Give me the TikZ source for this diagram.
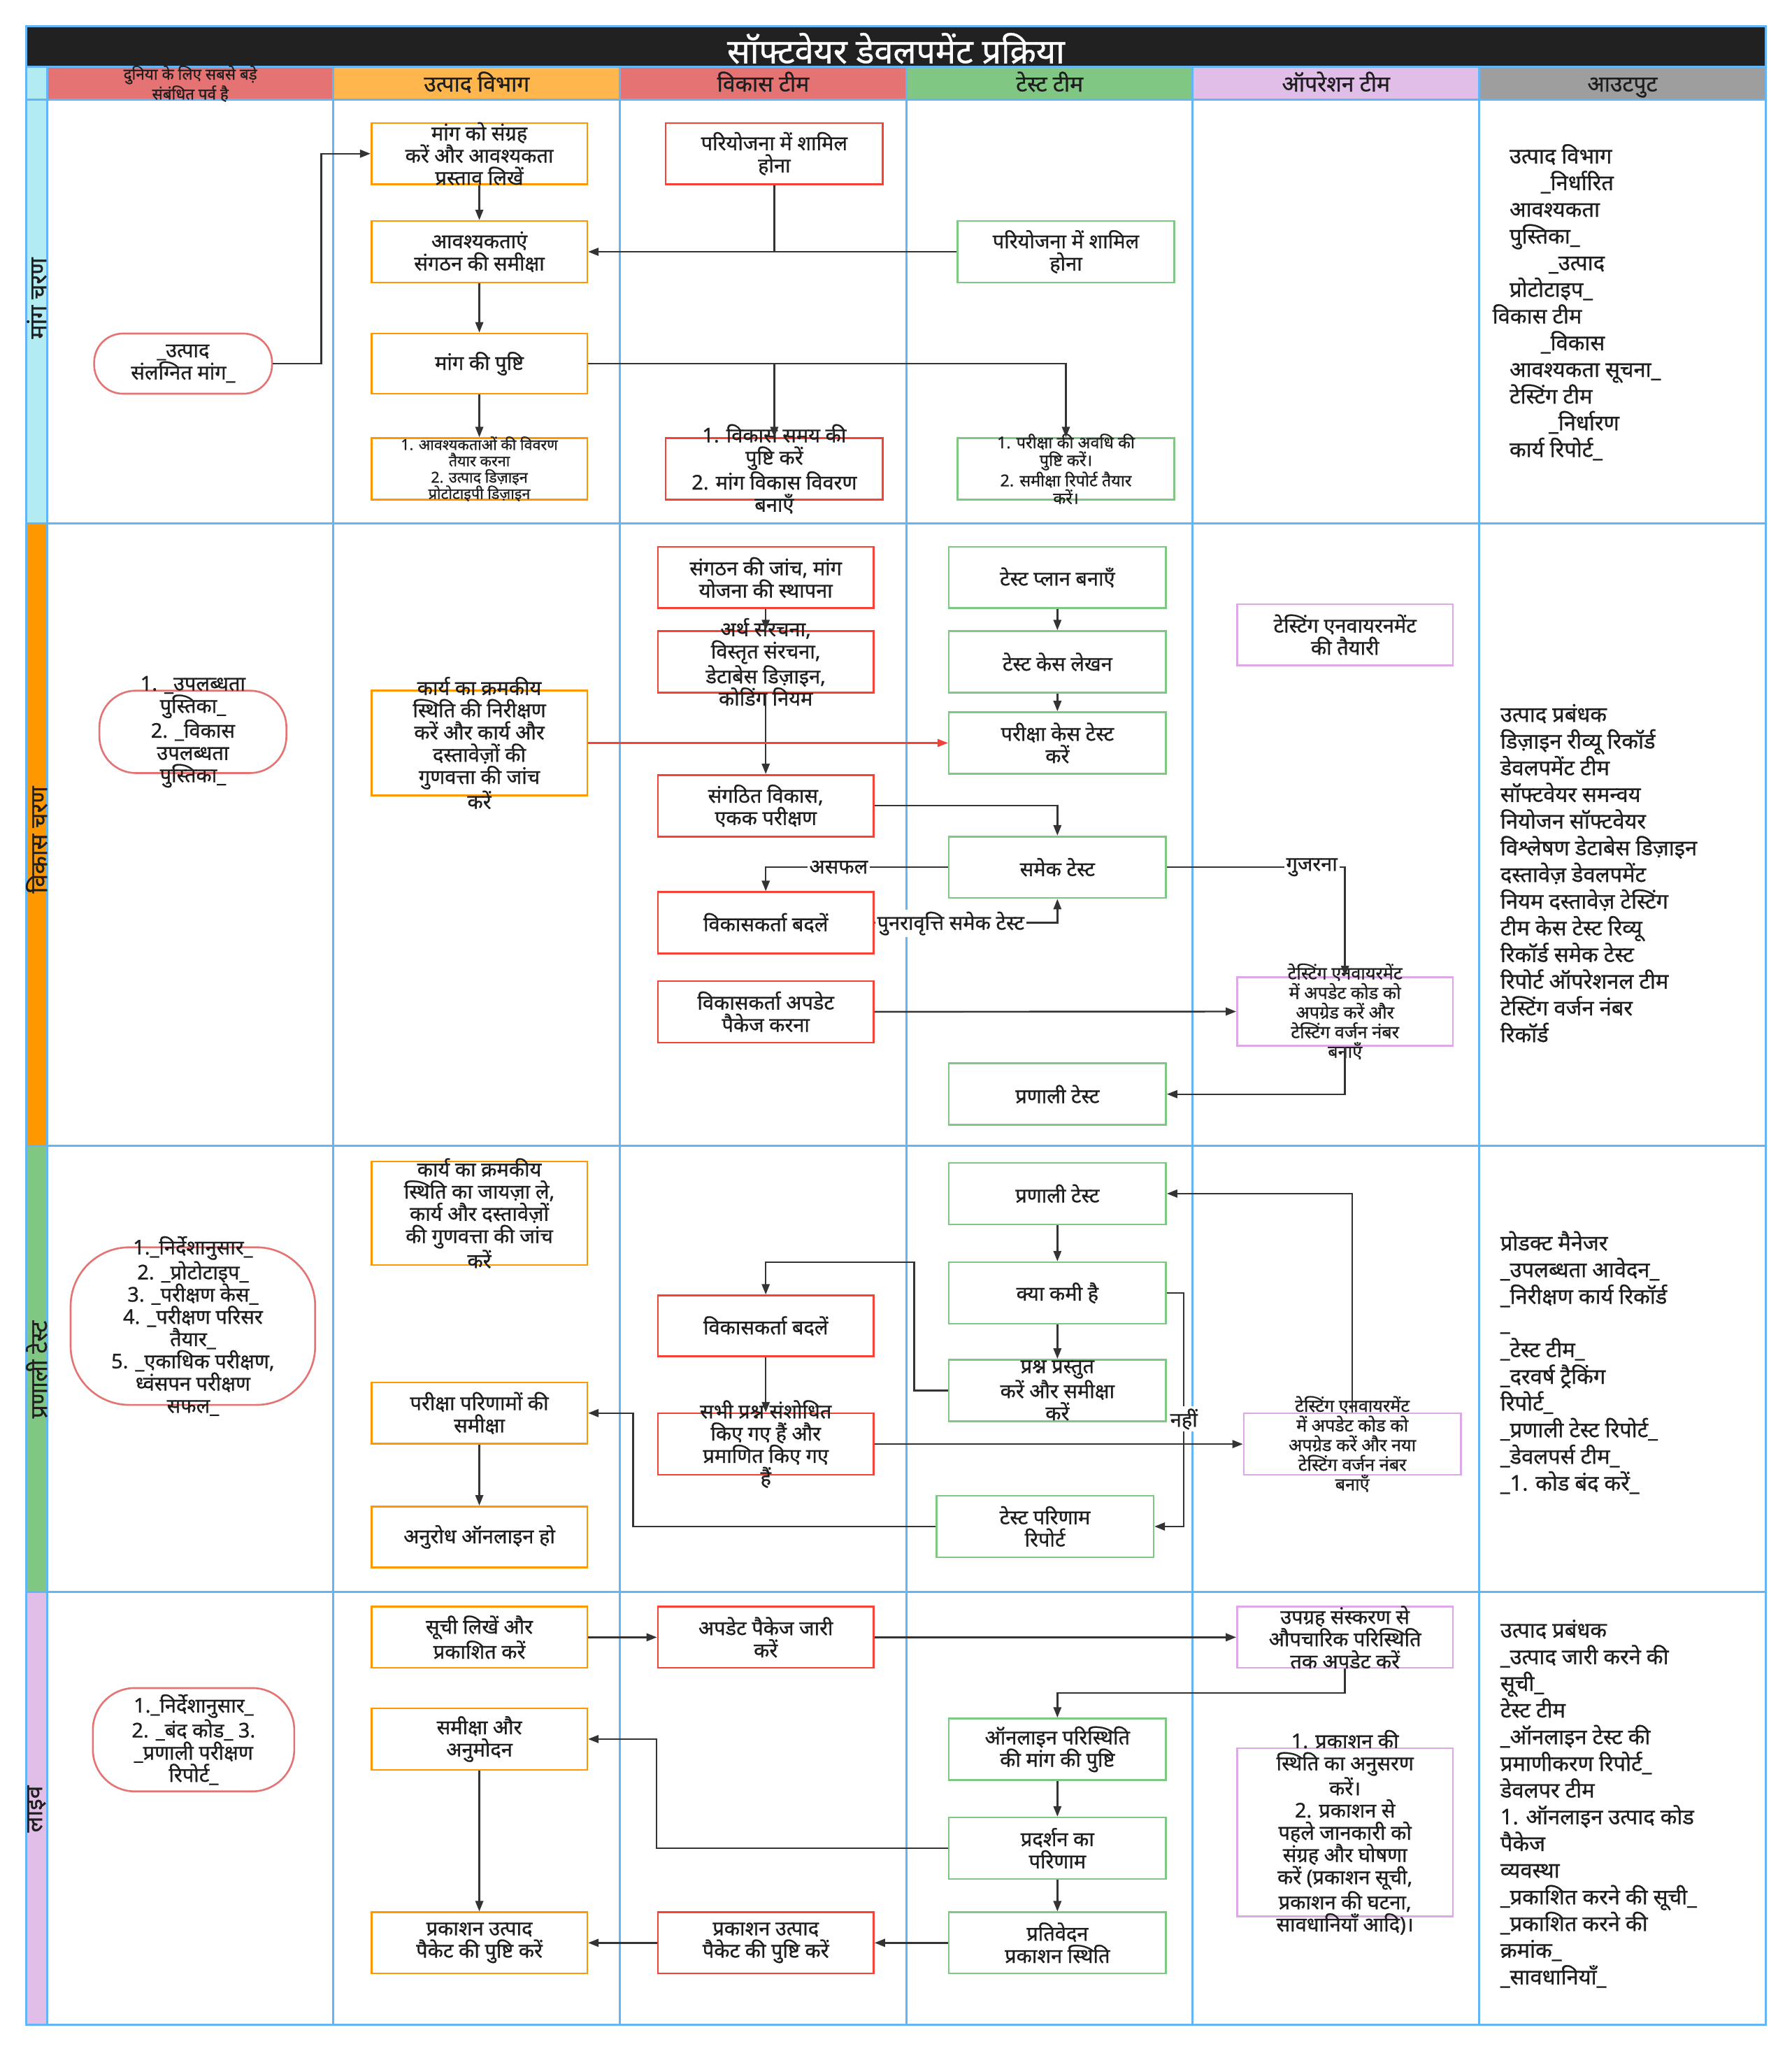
\documentclass[tikz,border=0pt]{standalone}
\usepackage{fontspec}
\setmainfont{Noto Sans}[Script=Devanagari, FakeBold=0.8]
\usetikzlibrary{arrows.meta}
\definecolor{gridc}{HTML}{64B5F6}
\definecolor{titlec}{HTML}{212121}
\definecolor{ink}{HTML}{1E1E1E}
\definecolor{prodc}{HTML}{FF9800}
\definecolor{devc}{HTML}{F44336}
\definecolor{testc}{HTML}{81C784}
\definecolor{opsc}{HTML}{DDA8E6}
\definecolor{pillc}{HTML}{E57373}
\definecolor{hred}{HTML}{E57373}
\definecolor{horange}{HTML}{FFB74D}
\definecolor{hgreen}{HTML}{81C784}
\definecolor{hlilac}{HTML}{E1BEE7}
\definecolor{hgray}{HTML}{9E9E9E}
\definecolor{hcyan}{HTML}{B2EBF2}
\definecolor{hdeep}{HTML}{FF9800}
\definecolor{lineblk}{HTML}{333333}
\newcommand\mkbox[8]{%
  \node[#2, minimum width=#5pt, minimum height=#6pt] (#1) at (#3,#4) {};
  \node[btxt,#7] (#1-t) at (#1.center) {#8};}
\tikzset{
  basebox/.style={rectangle, fill=white, line width=1.4pt, inner sep=0pt},
  pbox/.style={basebox, draw=prodc},
  dbox/.style={basebox, draw=devc},
  tbox/.style={basebox, draw=testc},
  obox/.style={basebox, draw=opsc},
  pill/.style={basebox, draw=pillc, rounded corners=22pt},
  btxt/.style={align=center, text=ink, inner sep=0pt, font=\fontsize{15.5}{17}\selectfont},
  smalltxt/.style={font=\fontsize{11.5}{12.5}\selectfont},
  midtxt/.style={font=\fontsize{12.5}{13.5}\selectfont},
  optxt/.style={font=\fontsize{13.5}{15}\selectfont},
  arr/.style={draw=lineblk, line width=1.3pt, -{Triangle[length=8pt,width=6pt]}},
  ln/.style={draw=lineblk, line width=1.3pt},
  lab/.style={fill=white, inner sep=1.5pt, text=ink, font=\fontsize{15.5}{17}\selectfont},
  outtxt/.style={align=left, anchor=north west, text=ink, inner sep=0pt, font=\fontsize{16.5}{20.4}\selectfont},
  hdr/.style={text=ink, inner sep=0pt, anchor=base, font=\fontsize{17}{19}\selectfont},
  lanelab/.style={rotate=90, text=ink, inner sep=0pt, font=\fontsize{18}{20}\selectfont},
}
\begin{document}
\begin{tikzpicture}[x=1pt,y=-1pt]
\useasboundingbox[fill=white] (0,0) rectangle (1370,1568);
% title and header
\fill[titlec] (20,20) rectangle (1350,51);
\fill[hcyan] (20,51) rectangle (36,76);
\fill[hred] (36,51) rectangle (255,76);
\fill[horange] (255,51) rectangle (474,76);
\fill[hred] (474,51) rectangle (693,76);
\fill[hgreen] (693,51) rectangle (912,76);
\fill[hlilac] (912,51) rectangle (1131,76);
\fill[hgray] (1131,51) rectangle (1350,76);
% lane strip
\fill[hcyan] (20,76) rectangle (36,400);
\fill[hdeep] (20,400) rectangle (36,876);
\fill[hgreen] (20,876) rectangle (36,1217);
\fill[hlilac] (20,1217) rectangle (36,1548);
% grid
\draw[gridc, line width=1.6pt] (20,20) rectangle (1350,1548);
\foreach \yy in {51,76,400,876,1217} {\draw[gridc, line width=1.6pt] (20,\yy) -- (1350,\yy);}
\foreach \xx in {36,255,474,693,912,1131} {\draw[gridc, line width=1.6pt] (\xx,51) -- (\xx,1548);}
\node[text=white, inner sep=0pt, font=\fontsize{26}{28}\selectfont] (title) at (685,37) {सॉफ्टवेयर डेवलपमेंट प्रक्रिया};
\node[text=ink, inner sep=0pt, align=center, font=\fontsize{12}{14}\selectfont] (h0) at (145.5,64) {दुनिया के लिए सबसे बड़े\\संबंधित पर्व है};
\node[hdr] (h1) at (364.5,70) {उत्पाद विभाग};
\node[hdr] (h2) at (583.5,70) {विकास टीम};
\node[hdr] (h3) at (802.5,70) {टेस्ट टीम};
\node[hdr] (h4) at (1021.5,70) {ऑपरेशन टीम};
\node[hdr] (h5) at (1240.5,70) {आउटपुट};
\node[lanelab] (lane1) at (28,228) {मांग चरण};
\node[lanelab] (lane2) at (28,642) {विकास चरण};
\node[lanelab] (lane3) at (28,1047) {प्रणाली टेस्ट};
\node[lanelab] (lane4) at (28,1383) {लाइव};

% ---------- lane 1
\mkbox{p1}{pill}{140}{278}{136}{46}{}{\_उत्पाद\\संलग्नित मांग\_}
\mkbox{b1}{pbox}{366.5}{117.5}{165}{47}{}{मांग को संग्रह\\करें और आवश्यकता\\प्रस्ताव लिखें}
\mkbox{b2}{pbox}{366.5}{192.5}{165}{47}{}{आवश्यकताएं\\संगठन की समीक्षा}
\mkbox{b3}{pbox}{366.5}{278}{165}{46}{}{मांग की पुष्टि}
\mkbox{b4}{pbox}{366.5}{358.5}{165}{47}{smalltxt}{1. आवश्यकताओं की विवरण\\तैयार करना\\2. उत्पाद डिज़ाइन\\प्रोटोटाइपी डिज़ाइन}
\mkbox{r1}{dbox}{592}{117.5}{166}{47}{}{परियोजना में शामिल\\होना}
\mkbox{r2}{dbox}{592}{358.5}{166}{47}{}{1. विकास समय की\\पुष्टि करें\\2. मांग विकास विवरण\\बनाएँ}
\mkbox{g1}{tbox}{815}{192.5}{166}{47}{}{परियोजना में शामिल\\होना}
\mkbox{g2}{tbox}{815}{358.5}{166}{47}{midtxt}{1. परीक्षा की अवधि की\\पुष्टि करें।\\2. समीक्षा रिपोर्ट तैयार\\करें।}
\draw[arr] (p1.east) -- ++(37,0) |- (b1.west);
\draw[arr] (b1.south) -- (b2.north);
\draw[arr] (b2.south) -- (b3.north);
\draw[arr] (b3.south) -- (b4.north);
\draw[arr] (g1.west) -- (b2.east);
\draw[ln] (r1.south) -- (r1.south |- b2.east);
\draw[arr] (b3.east) -| (g2.north);
\draw[arr] (r2.north |- b3.east) -- (r2.north);
\node[outtxt] (o1) at (1141,110) {\hspace*{13pt}उत्पाद विभाग\\
\hspace*{37pt}\_निर्धारित\\
\hspace*{13pt}आवश्यकता\\
\hspace*{13pt}पुस्तिका\_\\
\hspace*{43pt}\_उत्पाद\\
\hspace*{13pt}प्रोटोटाइप\_\\
विकास टीम\\
\hspace*{37pt}\_विकास\\
\hspace*{13pt}आवश्यकता सूचना\_\\
\hspace*{13pt}टेस्टिंग टीम\\
\hspace*{43pt}\_निर्धारण\\
\hspace*{13pt}कार्य रिपोर्ट\_};

% ---------- lane 2
\mkbox{p2}{pill,rounded corners=28pt}{147.5}{559.5}{143}{63}{}{1. \_उपलब्धता\\पुस्तिका\_\\2. \_विकास\\उपलब्धता\\पुस्तिका\_}
\mkbox{q1}{pbox}{366.5}{568}{165}{80}{}{कार्य का क्रमकीय\\स्थिति की निरीक्षण\\करें और कार्य और\\दस्तावेज़ों की\\गुणवत्ता की जांच\\करें}
\mkbox{c1}{dbox}{585.5}{441.5}{165}{47}{}{संगठन की जांच, मांग\\योजना की स्थापना}
\mkbox{c2}{dbox}{585.5}{506}{165}{47}{}{अर्थ संरचना,\\विस्तृत संरचना,\\डेटाबेस डिज़ाइन,\\कोडिंग नियम}
\mkbox{c3}{dbox}{585.5}{616}{165}{47}{}{संगठित विकास,\\एकक परीक्षण}
\mkbox{c4}{dbox}{585.5}{705.5}{165}{47}{}{विकासकर्ता बदलें}
\mkbox{c5}{dbox}{585.5}{773.5}{165}{47}{}{विकासकर्ता अपडेट\\पैकेज करना}
\mkbox{d1}{tbox}{808.5}{441.5}{166}{47}{}{टेस्ट प्लान बनाएँ}
\mkbox{d2}{tbox}{808.5}{506}{166}{47}{}{टेस्ट केस लेखन}
\mkbox{d3}{tbox}{808.5}{568}{166}{47}{}{परीक्षा केस टेस्ट\\करें}
\mkbox{d4}{tbox}{808.5}{663}{166}{47}{}{समेक टेस्ट}
\mkbox{d5}{tbox}{808.5}{836.5}{166}{47}{}{प्रणाली टेस्ट}
\mkbox{e1}{obox}{1028.4}{485.3}{165}{47}{}{टेस्टिंग एनवायरनमेंट\\की तैयारी}
\mkbox{e2}{obox}{1028.4}{773.3}{165}{52.6}{optxt}{टेस्टिंग एनवायरमेंट\\में अपडेट कोड को\\अपग्रेड करें और\\टेस्टिंग वर्जन नंबर\\बनाएँ}
\draw[arr] (c1.south) -- (c2.north);
\draw[arr] (c2.south) -- (c3.north);
\draw[arr, draw=devc] (q1.east) -- (d3.west);
\draw[arr] (d1.south) -- (d2.north);
\draw[arr] (d2.south) -- (d3.north);
\draw[arr] (c3.east) -| (d4.north);
\draw[arr] (d4.west) -| node[lab, pos=0.3] (fail) {असफल} (c4.north);
\draw[arr] (c4.east) -| (d4.south);
\node[lab, anchor=west] (retest) at (669,706) {पुनरावृत्ति समेक टेस्ट};
\draw[arr] (d4.east) -| (e2.north);
\node[lab] (pass) at (1003,663) {गुजरना};
\draw[arr] (c5.east) -- (e2.west);
\draw[arr] (e2.south) |- (d5.east);
\node[outtxt] (o2) at (1147,538) {उत्पाद प्रबंधक\\
डिज़ाइन रीव्यू रिकॉर्ड\\
डेवलपमेंट टीम\\
सॉफ्टवेयर समन्वय\\
नियोजन सॉफ्टवेयर\\
विश्लेषण डेटाबेस डिज़ाइन\\
दस्तावेज़ डेवलपमेंट\\
नियम दस्तावेज़ टेस्टिंग\\
टीम केस टेस्ट रिव्यू\\
रिकॉर्ड समेक टेस्ट\\
रिपोर्ट ऑपरेशनल टीम\\
टेस्टिंग वर्जन नंबर\\
रिकॉर्ड};

% ---------- lane 3
\mkbox{p3}{pill,rounded corners=45pt}{147.5}{1013.8}{187}{120.5}{}{1.\_निर्देशानुसार\_\\2. \_प्रोटोटाइप\_\\3. \_परीक्षण केस\_\\4. \_परीक्षण परिसर\\तैयार\_\\5. \_एकाधिक परीक्षण,\\ध्वंसपन परीक्षण\\सफल\_}
\mkbox{f1}{pbox}{366.5}{927.5}{165}{79}{}{कार्य का क्रमकीय\\स्थिति का जायज़ा ले,\\कार्य और दस्तावेज़ों\\की गुणवत्ता की जांच\\करें}
\mkbox{f2}{pbox}{366.5}{1080.3}{165}{46.6}{}{परीक्षा परिणामों की\\समीक्षा}
\mkbox{f3}{pbox}{366.5}{1175}{165}{46.6}{}{अनुरोध ऑनलाइन हो}
\mkbox{k3a}{dbox}{585.5}{1013.7}{165}{46.6}{}{विकासकर्ता बदलें}
\mkbox{k3b}{dbox}{585.5}{1104}{165}{47}{}{सभी प्रश्न संशोधित\\किए गए हैं और\\प्रमाणित किए गए\\हैं}
\mkbox{h1b}{tbox}{808.5}{912.5}{166}{47}{}{प्रणाली टेस्ट}
\mkbox{h2b}{tbox}{808.5}{988.5}{166}{47}{}{क्या कमी है}
\mkbox{h3b}{tbox}{808.5}{1063}{166}{47}{}{प्रश्न प्रस्तुत\\करें और समीक्षा\\करें}
\mkbox{h4b}{tbox}{799}{1167}{166}{47}{}{टेस्ट परिणाम\\रिपोर्ट}
\mkbox{i1}{obox}{1034}{1104}{166}{47}{optxt}{टेस्टिंग एनवायरमेंट\\में अपडेट कोड को\\अपग्रेड करें और नया\\टेस्टिंग वर्जन नंबर\\बनाएँ}
\draw[arr] (h1b.south) -- (h2b.north);
\draw[arr] (h2b.south) -- (h3b.north);
\draw[arr] (h3b.west) -| (699,965) -| (k3a.north);
\draw[arr] (k3a.south) -- (k3b.north);
\draw[arr] (k3b.east) -- (i1.west);
\draw[arr] (i1.north) |- (h1b.east);
\draw[arr] (h2b.east) -- ++(13,0) |- node[lab, pos=0.27] (no) {नहीं} (h4b.east);
\draw[arr] (h4b.west) -| (484,1080.3) -- (f2.east);
\draw[arr] (f2.south) -- (f3.north);
\node[outtxt] (o3) at (1147,941) {प्रोडक्ट मैनेजर\\
\_उपलब्धता आवेदन\_\\
\_निरीक्षण कार्य रिकॉर्ड\\
\_\\
\_टेस्ट टीम\_\\
\_दरवर्ष ट्रैकिंग\\
रिपोर्ट\_\\
\_प्रणाली टेस्ट रिपोर्ट\_\\
\_डेवलपर्स टीम\_\\
\_1. कोड बंद करें\_};

% ---------- lane 4
\mkbox{p4}{pill,rounded corners=32pt}{148}{1330}{154}{79}{}{1.\_निर्देशानुसार\_\\2. \_बंद कोड\_ 3.\\\_प्रणाली परीक्षण\\रिपोर्ट\_}
\mkbox{j1}{pbox}{366.5}{1251.7}{165}{46.6}{}{सूची लिखें और\\प्रकाशित करें}
\mkbox{j2}{pbox}{366.5}{1329.5}{165}{47}{}{समीक्षा और\\अनुमोदन}
\mkbox{j3}{pbox}{366.5}{1485.3}{165}{46.6}{}{प्रकाशन उत्पाद\\पैकेट की पुष्टि करें}
\mkbox{k1}{dbox}{585.5}{1251.7}{165}{46.6}{}{अपडेट पैकेज जारी\\करें}
\mkbox{k2}{dbox}{585.5}{1485.3}{165}{46.6}{}{प्रकाशन उत्पाद\\पैकेट की पुष्टि करें}
\mkbox{l1}{obox}{1028.4}{1251.7}{165}{46.6}{}{उपग्रह संस्करण से\\औपचारिक परिस्थिति\\तक अपडेट करें}
\mkbox{l2}{obox}{1028.4}{1400.8}{165}{128.4}{}{1. प्रकाशन की\\स्थिति का अनुसरण\\करें।\\2. प्रकाशन से\\पहले जानकारी को\\संग्रह और घोषणा\\करें (प्रकाशन सूची,\\प्रकाशन की घटना,\\सावधानियाँ आदि)।}
\mkbox{m1}{tbox}{808.5}{1337.3}{166}{47}{}{ऑनलाइन परिस्थिति\\की मांग की पुष्टि}
\mkbox{m2}{tbox}{808.5}{1413}{166}{47}{}{प्रदर्शन का\\परिणाम}
\mkbox{m3}{tbox}{808.5}{1485.3}{166}{46.6}{}{प्रतिवेदन\\प्रकाशन स्थिति}
\draw[arr] (j1.east) -- (k1.west);
\draw[arr] (k1.east) -- (l1.west);
\draw[arr] (l1.south) |- (808.5,1294.3) -- (m1.north);
\draw[arr] (m1.south) -- (m2.north);
\draw[arr] (m2.south) -- (m3.north);
\draw[arr] (m2.west) -| (502,1329.5) -- (j2.east);
\draw[arr] (m3.west) -- (k2.east);
\draw[arr] (k2.west) -- (j3.east);
\draw[arr] (j2.south) -- (j3.north);
\node[outtxt] (o4) at (1147,1238) {उत्पाद प्रबंधक\\
\_उत्पाद जारी करने की\\
सूची\_\\
टेस्ट टीम\\
\_ऑनलाइन टेस्ट की\\
प्रमाणीकरण रिपोर्ट\_\\
डेवलपर टीम\\
1. ऑनलाइन उत्पाद कोड\\
पैकेज\\
व्यवस्था\\
\_प्रकाशित करने की सूची\_\\
\_प्रकाशित करने की\\
क्रमांक\_\\
\_सावधानियाँ\_};
\end{tikzpicture}
\end{document}
